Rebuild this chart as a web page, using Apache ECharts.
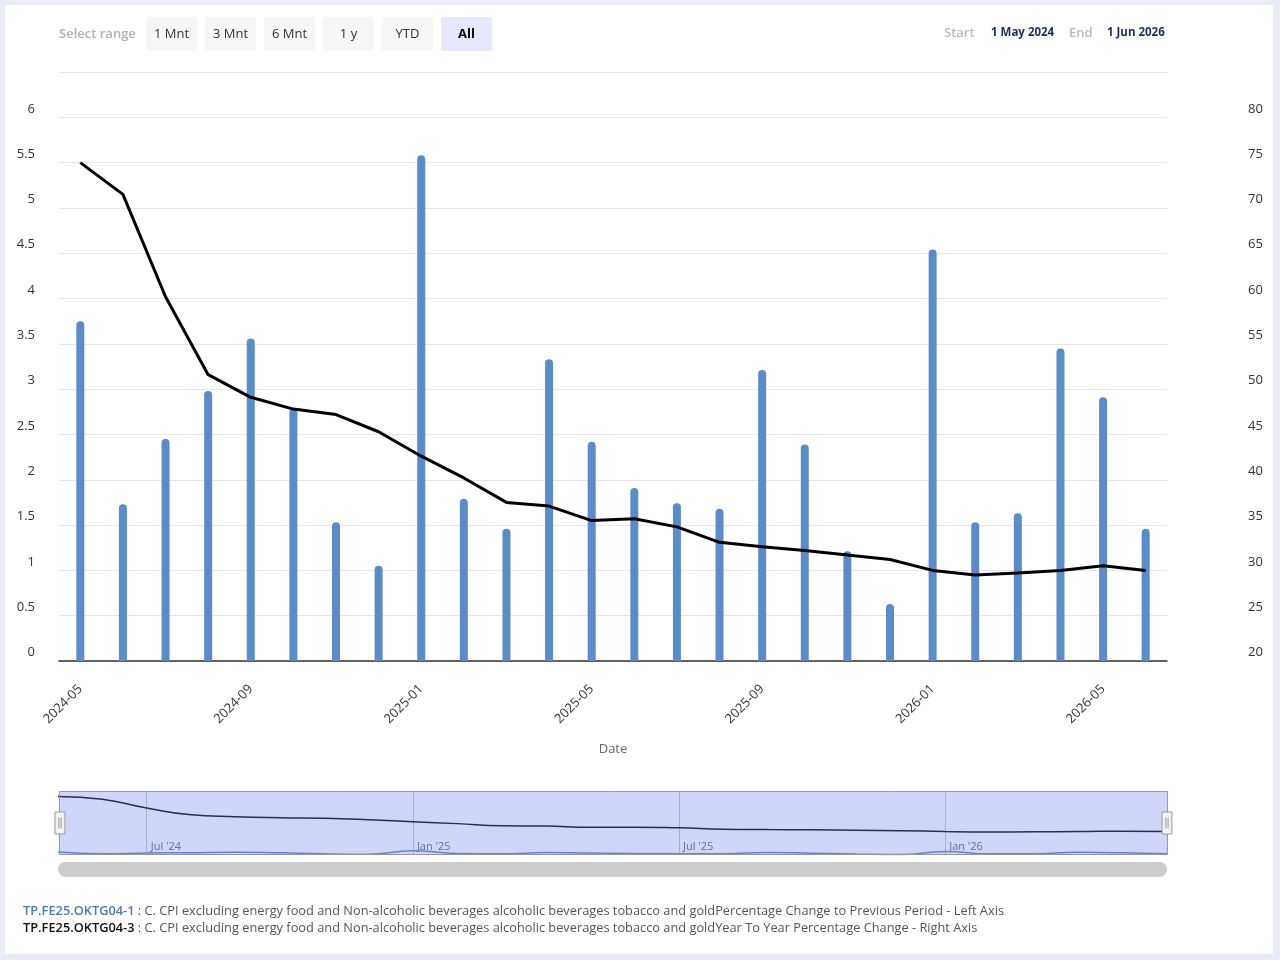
<!DOCTYPE html>
<html>
<head>
<meta charset="utf-8">
<title>CPI chart</title>
<script src="https://cdn.jsdelivr.net/npm/echarts@6/dist/echarts.min.js"></script>
<style>
  html, body { margin: 0; padding: 0; background: #e8ecf7; }
  #chart { width: 1280px; height: 960px; }
</style>
</head>
<body>
<div id="chart"></div>
<script>
// months on the x axis
const months = [
  '2024-05', '2024-06', '2024-07', '2024-08', '2024-09', '2024-10', '2024-11', '2024-12',
  '2025-01', '2025-02', '2025-03', '2025-04', '2025-05', '2025-06', '2025-07', '2025-08',
  '2025-09', '2025-10', '2025-11', '2025-12', '2026-01', '2026-02', '2026-03', '2026-04',
  '2026-05', '2026-06'
]

// percentage change to previous period (left axis, bars)
const momChange = [
  3.75, 1.73, 2.45, 2.98, 3.56, 2.79, 1.53, 1.05,
  5.58, 1.79, 1.46, 3.33, 2.42, 1.91, 1.74, 1.68,
  3.21, 2.39, 1.21, 0.63, 4.54, 1.53, 1.63, 3.45,
  2.91, 1.46
]

// year to year percentage change (right axis, line)
const yoyChange = [
  75.0, 71.5, 60.2, 51.6, 49.1, 47.8, 47.2, 45.3,
  42.6, 40.2, 37.5, 37.1, 35.5, 35.7, 34.8, 33.1,
  32.6, 32.2, 31.7, 31.2, 30.0, 29.5, 29.7, 30.0,
  30.5, 30.0
]

const seriesCodes = ['TP.FE25.OKTG04-1', 'TP.FE25.OKTG04-3']
const seriesDesc = [
  'C. CPI excluding energy food and Non-alcoholic beverages alcoholic beverages tobacco and goldPercentage Change to Previous Period - Left Axis',
  'C. CPI excluding energy food and Non-alcoholic beverages alcoholic beverages tobacco and goldYear To Year Percentage Change - Right Axis'
]

const rangeButtons = ['1 Mnt', '3 Mnt', '6 Mnt', '1 y', 'YTD', 'All']
const navMonthNames = { '01': 'Jan', '07': 'Jul' }

const FONT = '"Open Sans", "Noto Sans", sans-serif'
const BAR_COLOR = '#5b8cc8'

const chart = echarts.init(document.getElementById('chart'))

// range selector, start/end and scrollbar, drawn as plain graphics
const graphics = [
  {
    type: 'rect', z: -10, silent: true,
    shape: { x: 5, y: 5, width: 1268, height: 949 },
    style: { fill: '#ffffff' }
  },
  {
    type: 'text', x: 59, y: 34,
    style: { text: 'Select range', fill: '#b0b0b0', font: '600 13px ' + FONT, textVerticalAlign: 'middle' }
  },
  {
    type: 'rect', silent: true,
    shape: { x: 58, y: 862, width: 1109, height: 15, r: 7.5 },
    style: { fill: '#cccccc' }
  }
]
rangeButtons.forEach((label, i) => {
  const active = label === 'All'
  graphics.push({
    type: 'group', x: 146 + i * 59, y: 17,
    children: [
      { type: 'rect', shape: { width: 51, height: 34, r: 2 }, style: { fill: active ? '#e6e9fb' : '#f7f7f7' } },
      {
        type: 'text', x: 25.5, y: 17,
        style: {
          text: label, fill: active ? '#000' : '#333',
          font: (active ? 'bold ' : '') + '13px ' + FONT,
          textAlign: 'center', textVerticalAlign: 'middle'
        }
      }
    ]
  })
})
graphics.push(
  { type: 'text', x: 944, y: 33, style: { text: 'Start', fill: '#bbbbbb', font: '600 13px ' + FONT, textVerticalAlign: 'middle' } },
  { type: 'text', x: 991, y: 33, style: { text: '1 May 2024', fill: '#1c2d5c', font: 'bold 11.5px ' + FONT, textVerticalAlign: 'middle' } },
  { type: 'text', x: 1069, y: 33, style: { text: 'End', fill: '#bbbbbb', font: '600 13px ' + FONT, textVerticalAlign: 'middle' } },
  { type: 'text', x: 1107, y: 33, style: { text: '1 Jun 2026', fill: '#1c2d5c', font: 'bold 11.5px ' + FONT, textVerticalAlign: 'middle' } }
)

const isNavTick = (idx, val) => !!navMonthNames[val.slice(5)]

const option = {
  backgroundColor: '#e8ecf7',
  animation: false,
  textStyle: { fontFamily: FONT },
  graphic: graphics,
  legend: {
    orient: 'vertical',
    left: 13,
    top: 900,
    itemGap: 4,
    itemWidth: 0,
    itemHeight: 0,
    icon: 'none',
    data: seriesCodes,
    formatter: function (name) {
      const i = seriesCodes.indexOf(name)
      return '{c' + i + '|' + name + '} : ' + seriesDesc[i]
    },
    textStyle: {
      fontSize: 12.8,
      color: '#555',
      rich: {
        c0: { color: '#4a7ab0', fontWeight: 600, fontSize: 12.8 },
        c1: { color: '#111', fontWeight: 600, fontSize: 12.8 }
      }
    }
  },
  grid: [
    { left: 59, right: 113, top: 72, bottom: 299 },
    { left: 58, right: 113, top: 791, height: 64 }
  ],
  xAxis: [
    {
      type: 'category',
      gridIndex: 0,
      data: months,
      boundaryGap: true,
      axisLine: { lineStyle: { color: '#333', width: 1.5 } },
      axisTick: { alignWithLabel: true, interval: 3, length: 14, lineStyle: { color: '#333', width: 1.5 } },
      axisLabel: { interval: 3, rotate: 45, fontSize: 13, color: '#333', margin: 26 },
      name: 'Date',
      nameLocation: 'middle',
      nameGap: 82,
      nameTextStyle: { color: '#666', fontSize: 13 }
    },
    {
      type: 'category',
      gridIndex: 1,
      data: months,
      boundaryGap: false,
      axisLine: { show: false },
      axisTick: { show: false },
      splitLine: { show: true, interval: isNavTick, lineStyle: { color: '#c4c6d6' } },
      axisLabel: {
        inside: true,
        interval: isNavTick,
        align: 'left',
        verticalAlign: 'bottom',
        margin: 3,
        padding: [0, 0, 0, 4],
        fontSize: 11,
        color: '#666a80',
        formatter: v => navMonthNames[v.slice(5)] + " '" + v.slice(2, 4)
      }
    }
  ],
  yAxis: [
    {
      type: 'value',
      gridIndex: 0,
      min: 0,
      max: 6.5,
      interval: 0.5,
      splitLine: { lineStyle: { color: '#e6e6e6' } },
      axisLabel: {
        margin: 24, fontSize: 13, color: '#333',
        verticalAlign: 'bottom', lineHeight: 17,
        formatter: v => (v > 6 ? '' : String(v))
      }
    },
    {
      type: 'value',
      gridIndex: 0,
      position: 'right',
      min: 20,
      max: 85,
      interval: 5,
      splitLine: { show: false },
      axisLabel: {
        margin: 81, fontSize: 13, color: '#333', align: 'left',
        verticalAlign: 'bottom', lineHeight: 17,
        formatter: v => (v > 80 ? '' : String(v))
      }
    },
    { type: 'value', gridIndex: 1, min: 0, max: 82, show: false }
  ],
  dataZoom: [
    {
      type: 'slider',
      xAxisIndex: [0],
      start: 0,
      end: 100,
      left: 58,
      right: 113,
      top: 791,
      height: 64,
      showDetail: false,
      showDataShadow: false,
      brushSelect: false,
      moveHandleSize: 0,
      backgroundColor: 'transparent',
      borderColor: '#999',
      fillerColor: 'rgba(100,120,235,0.3)',
      handleIcon: 'path://M0,0 L9,0 L9,20 L0,20 Z M3.5,5 L3.5,15 M5.5,5 L5.5,15',
      handleSize: 22,
      handleStyle: { color: '#f2f2f2', borderColor: '#999', borderWidth: 1 },
      dataBackground: { lineStyle: { opacity: 0 }, areaStyle: { opacity: 0 } },
      selectedDataBackground: { lineStyle: { opacity: 0 }, areaStyle: { opacity: 0 } }
    }
  ],
  series: [
    {
      name: seriesCodes[0],
      type: 'bar',
      xAxisIndex: 0,
      yAxisIndex: 0,
      data: momChange,
      barWidth: 8,
      itemStyle: { color: BAR_COLOR, borderRadius: [4, 4, 0, 0] }
    },
    {
      name: seriesCodes[1],
      type: 'line',
      xAxisIndex: 0,
      yAxisIndex: 1,
      data: yoyChange,
      showSymbol: false,
      z: 5,
      color: '#000',
      lineStyle: { color: '#000', width: 3, join: 'round' }
    },
    {
      name: 'nav-mom',
      type: 'line',
      xAxisIndex: 1,
      yAxisIndex: 2,
      data: momChange,
      smooth: true,
      showSymbol: false,
      silent: true,
      lineStyle: { color: BAR_COLOR, width: 1.5 }
    },
    {
      name: 'nav-yoy',
      type: 'line',
      xAxisIndex: 1,
      yAxisIndex: 2,
      data: yoyChange,
      smooth: true,
      showSymbol: false,
      silent: true,
      lineStyle: { color: '#111', width: 1.5 }
    }
  ]
}

chart.setOption(option)
</script>
</body>
</html>
